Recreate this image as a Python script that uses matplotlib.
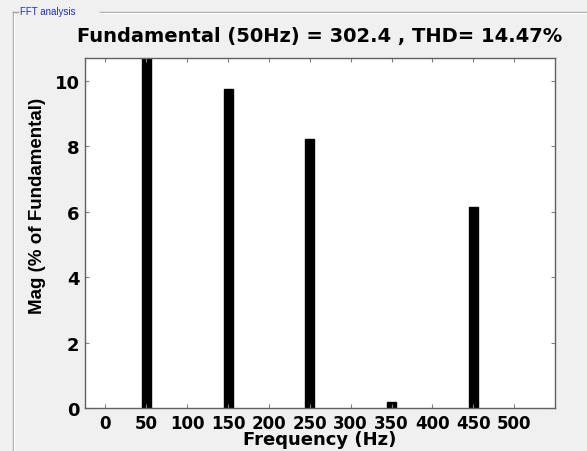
import matplotlib
matplotlib.use('Agg')
import matplotlib.pyplot as plt
from matplotlib.lines import Line2D

# harmonic spectrum (% of fundamental)
freqs = [50, 150, 250, 350, 450]
mags = [100.0, 9.75, 8.23, 0.18, 6.13]
xticks = [0, 50, 100, 150, 200, 250, 300, 350, 400, 450, 500]
yticks = [0, 2, 4, 6, 8, 10]

title = 'Fundamental (50Hz) = 302.4 , THD= 14.47%'

plt.rcParams['font.family'] = ['DejaVu Sans']
plt.rcParams['font.weight'] = 'bold'

fig = plt.figure(figsize=(5.87, 4.52), dpi=100, facecolor='#f0f0f0')

# panel frame like the matlab gui
fig.add_artist(Line2D([13/587, 13/587], [0, 1 - 13/452], color='#a0a0a0', lw=1))
fig.add_artist(Line2D([14/587, 14/587], [0, 1 - 14/452], color='white', lw=1))
fig.add_artist(Line2D([100/587, 1], [1 - 13/452, 1 - 13/452], color='#a0a0a0', lw=1))
fig.add_artist(Line2D([100/587, 1], [1 - 14/452, 1 - 14/452], color='white', lw=1))
fig.add_artist(Line2D([13/587, 18/587], [1 - 13/452, 1 - 13/452], color='#a0a0a0', lw=1))
fig.text(20/587, 1 - 12/452, 'FFT analysis', color='#2030c0', fontsize=7,
         fontweight='normal', family='Liberation Sans', va='center', ha='left')

ax = fig.add_axes([85/587, 1 - 409/452, 470/587, 350/452])
ax.set_facecolor('white')
ax.bar(freqs, mags, width=11, color='black', edgecolor='black')

ax.set_xlim(-25, 550)
ax.set_ylim(0, 10.7)
ax.set_xticks(xticks)
ax.set_yticks(yticks)
ax.tick_params(direction='in', length=3, width=0.8, color='#808080',
               top=True, right=True, labelsize=13, pad=4)
ax.tick_params(axis='x', labelsize=12)
for lbl in ax.get_xticklabels() + ax.get_yticklabels():
    lbl.set_fontweight('bold')
for s in ax.spines.values():
    s.set_color('#606060')
    s.set_linewidth(1)

ax.set_title(title, fontsize=14, fontweight='bold', pad=12)
ax.set_xlabel('Frequency (Hz)', fontsize=13, fontweight='bold', labelpad=-1)
ax.set_ylabel('Mag (% of Fundamental)', fontsize=13.5, fontweight='bold',
              family='Liberation Sans')
ax.yaxis.set_label_coords(-0.082, 0.58)

fig.savefig('out.png', dpi=100, facecolor=fig.get_facecolor())
